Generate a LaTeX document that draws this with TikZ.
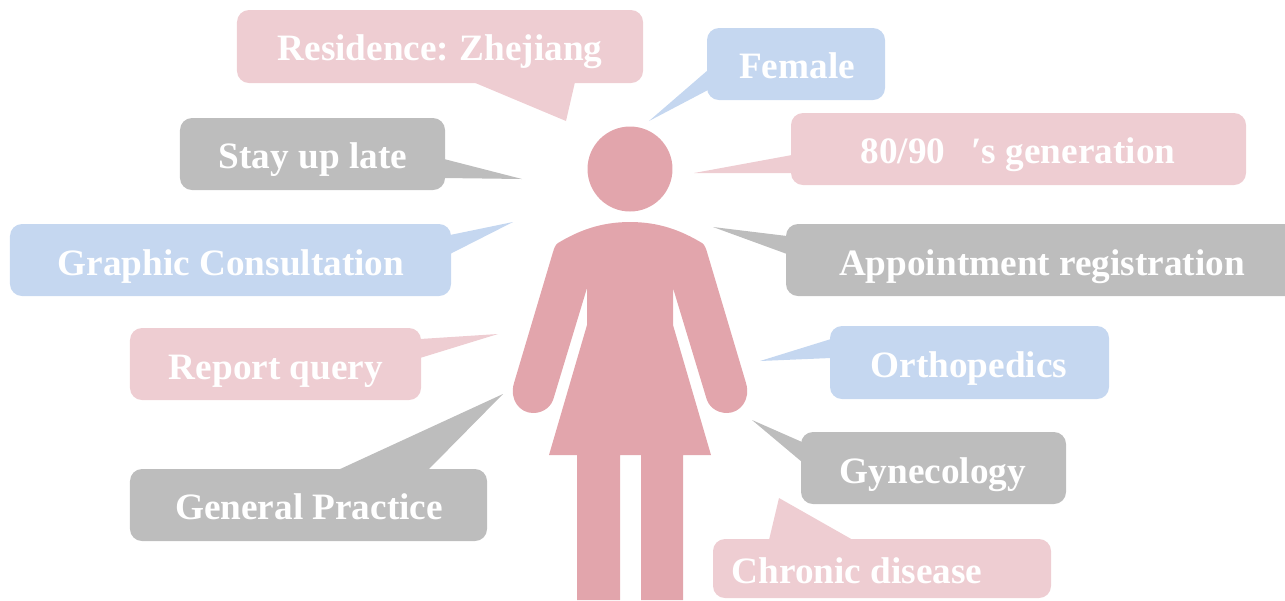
\documentclass[tikz,border=0pt]{standalone}
\usepackage{fontspec}
\setmainfont{Liberation Serif}
\definecolor{bodyc}{HTML}{E2A5AC}
\definecolor{pinkc}{HTML}{EECDD2}
\definecolor{bluec}{HTML}{C5D7F0}
\definecolor{grayc}{HTML}{BDBDBD}
\tikzset{
  bubble/.style={rectangle,rounded corners=0.24cm,draw=none,inner sep=0pt,anchor=center},
  txt/.style={text=white,font=\fontsize{21.2}{24}\selectfont\bfseries,inner sep=0pt,anchor=base},
  figure/.style={fill=bodyc,draw=none}
}
% #1 name, #2 left, #3 top, #4 right, #5 bottom, #6 colour, #7 text x, #8 text baseline y, #9 text
\newcommand\bubblebox[9]{%
  \pgfmathsetmacro\bw{(#4-#2)*0.02}%
  \pgfmathsetmacro\bh{(#5-#3)*0.02}%
  \node[bubble,fill=#6,minimum width=\bw cm,minimum height=\bh cm] (#1) at ({(#2+#4)/2},{(#3+#5)/2}) {};
  \node[txt] (#1-t) at (#7,#8) {#9};
}
\newcommand\tail[4]{\fill[#1] #2 -- #3 -- #4 -- cycle;}
\begin{document}
\begin{tikzpicture}[x=0.02cm,y=-0.02cm]
\useasboundingbox (0,0) rectangle (1285,600);
% figure
\node[circle,figure,minimum size=1.7cm,inner sep=0pt] (head) at (630,169) {};
\fill[figure] (630,222) .. controls (600,222) and (578,231) .. (558,243)
  .. controls (555,245) and (554,249) .. (553,252)
  -- (514,383) .. controls (509,400) and (520,413) .. (533,413)
  .. controls (544,413) and (552,406) .. (554,397)
  -- (587,288) -- (587,325) -- (549,455) -- (577,455) -- (577,600) -- (620,600) -- (620,455)
  -- (641,455) -- (641,600) -- (683,600) -- (683,455) -- (711,455)
  -- (673,325) -- (673,288) -- (706,397)
  .. controls (708,406) and (716,413) .. (727,413)
  .. controls (740,413) and (751,400) .. (746,383)
  -- (707,252) .. controls (706,249) and (705,245) .. (702,243)
  .. controls (682,231) and (660,222) .. (630,222) -- cycle;
% tail tips
\coordinate (resTip) at (566,121);
\coordinate (femTip) at (649,121);
\coordinate (genTip) at (694,173);
\coordinate (stayTip) at (522,179);
\coordinate (graTip) at (513,222);
\coordinate (appTip) at (713,227);
\coordinate (repTip) at (498,334);
\coordinate (ortTip) at (760,361);
\coordinate (gprTip) at (503,394);
\coordinate (gynTip) at (752,420);
\coordinate (chrTip) at (779,498);
% tails
\tail{pinkc}{(resTip)}{(473,82)}{(575,82)}
\tail{bluec}{(femTip)}{(708,70)}{(708,90)}
\tail{pinkc}{(genTip)}{(792,155)}{(792,173)}
\tail{grayc}{(stayTip)}{(444,159)}{(444,178)}
\tail{bluec}{(graTip)}{(450,235)}{(450,254)}
\tail{grayc}{(appTip)}{(787,236)}{(787,254)}
\tail{pinkc}{(repTip)}{(420,339)}{(420,358)}
\tail{bluec}{(ortTip)}{(831,339)}{(831,358)}
\tail{grayc}{(gprTip)}{(338,470)}{(428,470)}
\tail{grayc}{(gynTip)}{(802,442)}{(802,462)}
\tail{pinkc}{(chrTip)}{(769,540)}{(853,540)}
% bubbles
\bubblebox{res}{237}{10}{643}{83}{pinkc}{440}{60}{Residence:\hspace{-0.06em} Zhejiang}
\bubblebox{fem}{707}{28}{885}{100}{bluec}{797}{78}{Female}
\bubblebox{gen}{791}{113}{1246}{185}{pinkc}{1018}{163}{80/90\hspace{0.7em}′s generation}
\bubblebox{stay}{180}{118}{445}{190}{grayc}{313}{168}{Stay up late}
\bubblebox{gra}{10}{224}{451}{296}{bluec}{231}{275}{Graphic Consultation}
\bubblebox{app}{786}{224}{1297}{296}{grayc}{1042}{275}{Appointment registration}
\bubblebox{rep}{130}{328}{421}{400}{pinkc}{276}{379}{Report query}
\bubblebox{ort}{830}{326}{1109}{399}{bluec}{969}{377}{Orthopedics}
\bubblebox{gpr}{130}{469}{487}{541}{grayc}{309}{519}{General Practice}
\bubblebox{gyn}{801}{432}{1066}{504}{grayc}{933}{483}{Gynecology}
\bubblebox{chr}{713}{539}{1051}{598}{pinkc}{857}{583}{Chronic disease}
\end{tikzpicture}
\end{document}
